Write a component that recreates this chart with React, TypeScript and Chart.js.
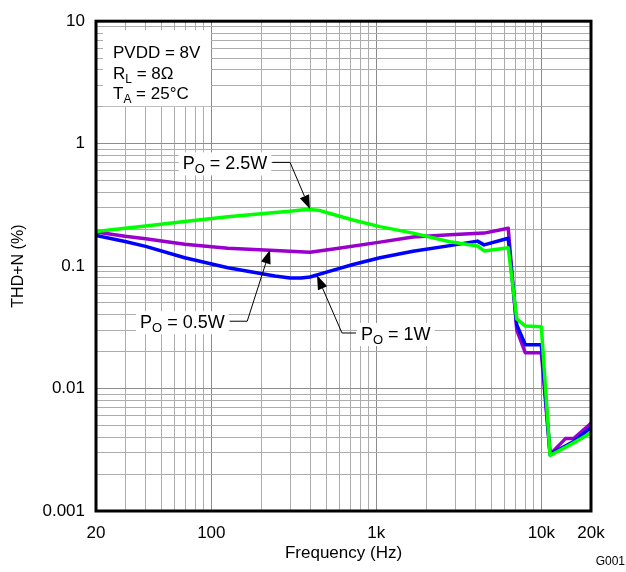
import React, { useEffect, useRef } from 'react';
import { Chart, registerables } from 'chart.js';

Chart.register(...registerables);

const FONT = '"Liberation Sans", Arial, sans-serif';

// ---- data (frequency in Hz, THD+N in %) ----
const freq2p5W = [20, 30, 40, 69, 126, 243, 300, 350, 396, 456, 524, 722, 1052, 1668, 2794, 4100, 4500, 6300, 7100, 8000, 10000, 11300, 15700, 20000];
const thd2p5W = [0.192, 0.204, 0.213, 0.231, 0.253, 0.274, 0.281, 0.287, 0.29, 0.284, 0.269, 0.238, 0.21, 0.186, 0.158, 0.146, 0.133, 0.141, 0.037, 0.0324, 0.032, 0.00284, 0.0036, 0.00435];

const freq1W = [20, 30, 40, 69, 126, 243, 300, 350, 396, 524, 722, 1052, 1668, 2794, 4100, 4500, 6300, 7100, 8000, 10000, 11300, 15700, 20000];
const thd1W = [0.178, 0.159, 0.145, 0.117, 0.097, 0.083, 0.08, 0.0798, 0.0815, 0.091, 0.103, 0.117, 0.132, 0.147, 0.16, 0.149, 0.169, 0.033, 0.0228, 0.0228, 0.0029, 0.0037, 0.0048];

const freq0p5W = [20, 30, 40, 69, 126, 243, 396, 577, 1052, 1668, 2794, 4500, 6300, 7100, 8000, 10000, 11300, 14000, 15700, 20000];
const thd0p5W = [0.19, 0.175, 0.167, 0.151, 0.14, 0.134, 0.13, 0.139, 0.157, 0.173, 0.18, 0.186, 0.204, 0.03, 0.0196, 0.0196, 0.0029, 0.0039, 0.0039, 0.0052];

const xTickValues = [20, 100, 1000, 10000, 20000];
const xTickLabels = ['20', '100', '1k', '10k', '20k'];
const yTickValues = [0.001, 0.01, 0.1, 1, 10];
const yTickLabels = ['0.001', '0.01', '0.1', '1', '10'];

const X_MIN = 20, X_MAX = 20000, Y_MIN = 0.001, Y_MAX = 10;

function logGrid(min: number, max: number): number[] {
  const out: number[] = [];
  for (let e = Math.floor(Math.log10(min)); e <= Math.ceil(Math.log10(max)); e++) {
    for (let m = 1; m <= 9; m++) {
      const v = parseFloat((m * Math.pow(10, e)).toPrecision(6));
      if (v >= min * 0.9999 && v <= max * 1.0001) out.push(v);
    }
  }
  return out;
}
const xGrid = logGrid(X_MIN, X_MAX);
const yGrid = logGrid(Y_MIN, Y_MAX);

function labelFor(v: number, vals: number[], labels: string[]) {
  const i = vals.findIndex((t) => Math.abs(t - v) / t < 1e-6);
  return i >= 0 ? labels[i] : '';
}
function isDecade(v: number) {
  const l = Math.log10(v);
  return Math.abs(l - Math.round(l)) < 1e-6;
}

// annotation definitions (data coordinates)
const annotations = [
  { sub: 'O', rest: ' = 2.5W', textX: 67, textY: 0.69, elbowX: 300, tipX: 396, tipY: 0.292, side: 'right' },
  { sub: 'O', rest: ' = 0.5W', textX: 37, textY: 0.0348, elbowX: 165, tipX: 227, tipY: 0.136, side: 'right' },
  { sub: 'O', rest: ' = 1W', textX: 807, textY: 0.0279, elbowX: 619, tipX: 437, tipY: 0.084, side: 'left' },
];

function drawSubText(ctx: CanvasRenderingContext2D, x: number, base: number, main: string, sub: string, rest: string, draw = true, size = 18) {
  let cx = x;
  const subSize = Math.round(size * 0.72);
  ctx.font = `${size}px ${FONT}`;
  if (draw) ctx.fillText(main, cx, base);
  cx += ctx.measureText(main).width;
  ctx.font = `${subSize}px ${FONT}`;
  if (draw) ctx.fillText(sub, cx, base + 4);
  cx += ctx.measureText(sub).width;
  ctx.font = `${size}px ${FONT}`;
  if (draw) ctx.fillText(rest, cx, base);
  cx += ctx.measureText(rest).width;
  return cx - x;
}

function arrow(ctx: CanvasRenderingContext2D, x0: number, y0: number, x1: number, y1: number) {
  const ang = Math.atan2(y1 - y0, x1 - x0);
  const len = 14, half = 5;
  const bx = x1 - len * Math.cos(ang), by = y1 - len * Math.sin(ang);
  ctx.beginPath();
  ctx.moveTo(x0, y0);
  ctx.lineTo(bx, by);
  ctx.stroke();
  ctx.beginPath();
  ctx.moveTo(x1, y1);
  ctx.lineTo(bx + half * Math.sin(ang), by - half * Math.cos(ang));
  ctx.lineTo(bx - half * Math.sin(ang), by + half * Math.cos(ang));
  ctx.closePath();
  ctx.fill();
}

const decorPlugin = {
  id: 'decor',
  afterDatasetsDraw(chart: any) {
    const { ctx, chartArea, scales } = chart;
    const xs = scales.x, ys = scales.y;
    ctx.save();
    ctx.textBaseline = 'alphabetic';
    ctx.textAlign = 'left';
    // info box
    const L = chartArea.left, T = chartArea.top;
    ctx.fillStyle = '#ffffff';
    ctx.fillRect(L + 7, T + 9, 108, 76);
    ctx.fillStyle = '#000000';
    ctx.font = `17px ${FONT}`;
    ctx.fillText('PVDD = 8V', L + 17, T + 36.5);
    drawSubText(ctx, L + 17, T + 57.5, 'R', 'L', ' = 8Ω', true, 17);
    drawSubText(ctx, L + 17, T + 77.5, 'T', 'A', ' = 25°C', true, 17);

    // annotations
    ctx.strokeStyle = '#000000';
    ctx.lineWidth = 1;
    for (const a of annotations) {
      const tx = xs.getPixelForValue(a.textX);
      const ty = ys.getPixelForValue(a.textY);
      const w = drawSubText(ctx, tx, ty + 6, 'P', a.sub, a.rest, false);
      ctx.fillStyle = '#ffffff';
      ctx.fillRect(tx - 4, ty - 11, w + 8, 23);
      ctx.fillStyle = '#000000';
      drawSubText(ctx, tx, ty + 6, 'P', a.sub, a.rest);
      const ex = xs.getPixelForValue(a.elbowX);
      const px = xs.getPixelForValue(a.tipX);
      const py = ys.getPixelForValue(a.tipY);
      const startX = a.side === 'right' ? tx + w + 5 : tx - 5;
      ctx.beginPath();
      ctx.moveTo(startX, ty - 1);
      ctx.lineTo(ex, ty - 1);
      ctx.stroke();
      arrow(ctx, ex, ty - 1, px, py);
    }
    ctx.restore();
  },
  afterDraw(chart: any) {
    const { ctx, chartArea } = chart;
    ctx.save();
    ctx.strokeStyle = '#000000';
    ctx.lineWidth = 3;
    ctx.strokeRect(chartArea.left, chartArea.top, chartArea.right - chartArea.left, chartArea.bottom - chartArea.top);
    ctx.fillStyle = '#000000';
    ctx.font = `12px ${FONT}`;
    ctx.textAlign = 'right';
    ctx.textBaseline = 'alphabetic';
    ctx.fillText('G001', chart.width - 1, chart.height - 7);
    ctx.restore();
  },
};

const toXY = (xs: number[], ys: number[]) => xs.map((x, i) => ({ x, y: ys[i] }));

export default function App() {
  const ref = useRef<HTMLCanvasElement>(null);
  useEffect(() => {
    if (!ref.current) return;
    const gridColor = (c: any) => (c.tick && isDecade(c.tick.value) ? '#8c8c8c' : '#acacac');
    const line = { borderWidth: 3.5, pointRadius: 0, tension: 0, borderJoinStyle: 'round', borderCapStyle: 'round' };
    const chart = new Chart(ref.current, {
      type: 'line',
      data: {
        datasets: [
          { label: 'PO = 2.5W', data: toXY(freq2p5W, thd2p5W), borderColor: '#00ff00', backgroundColor: '#00ff00', ...line },
          { label: 'PO = 1W', data: toXY(freq1W, thd1W), borderColor: '#0000ff', backgroundColor: '#0000ff', ...line },
          { label: 'PO = 0.5W', data: toXY(freq0p5W, thd0p5W), borderColor: '#9900cc', backgroundColor: '#9900cc', ...line },
        ],
      },
      options: {
        responsive: false,
        animation: false,
        devicePixelRatio: 1,
        layout: { padding: { left: 0, right: 35, top: 15.5, bottom: 0 } },
        plugins: { legend: { display: false }, tooltip: { enabled: false } },
        scales: {
          x: {
            type: 'logarithmic',
            min: X_MIN,
            max: X_MAX,
            afterBuildTicks: (s: any) => { s.ticks = xGrid.map((v) => ({ value: v })); },
            afterFit: (s: any) => { s.height = 61; },
            grid: { color: gridColor, lineWidth: 1, drawTicks: false },
            border: { display: false },
            ticks: {
              autoSkip: false,
              maxRotation: 0,
              padding: 12,
              color: '#000',
              font: { family: FONT, size: 17 },
              callback: (v: any) => labelFor(Number(v), xTickValues, xTickLabels),
            },
            title: { display: true, text: 'Frequency (Hz)', color: '#000', font: { family: FONT, size: 17 }, padding: { top: 0, bottom: 8 } },
          },
          y: {
            type: 'logarithmic',
            min: Y_MIN,
            max: Y_MAX,
            afterBuildTicks: (s: any) => { s.ticks = yGrid.map((v) => ({ value: v })); },
            afterFit: (s: any) => { s.width = 96; },
            grid: { color: gridColor, lineWidth: 1, drawTicks: false },
            border: { display: false },
            ticks: {
              autoSkip: false,
              padding: 11,
              color: '#000',
              font: { family: FONT, size: 17 },
              callback: (v: any) => labelFor(Number(v), yTickValues, yTickLabels),
            },
            title: { display: true, text: 'THD+N (%)', color: '#000', font: { family: FONT, size: 16 }, padding: { top: 9, bottom: 0 } },
          },
        },
      } as any,
      plugins: [decorPlugin],
    });
    return () => chart.destroy();
  }, []);
  return (
    <div style={{ position: 'absolute', left: 0, top: 0, width: 626, height: 572, background: '#fff' }}>
      <canvas ref={ref} width={626} height={572} />
    </div>
  );
}
